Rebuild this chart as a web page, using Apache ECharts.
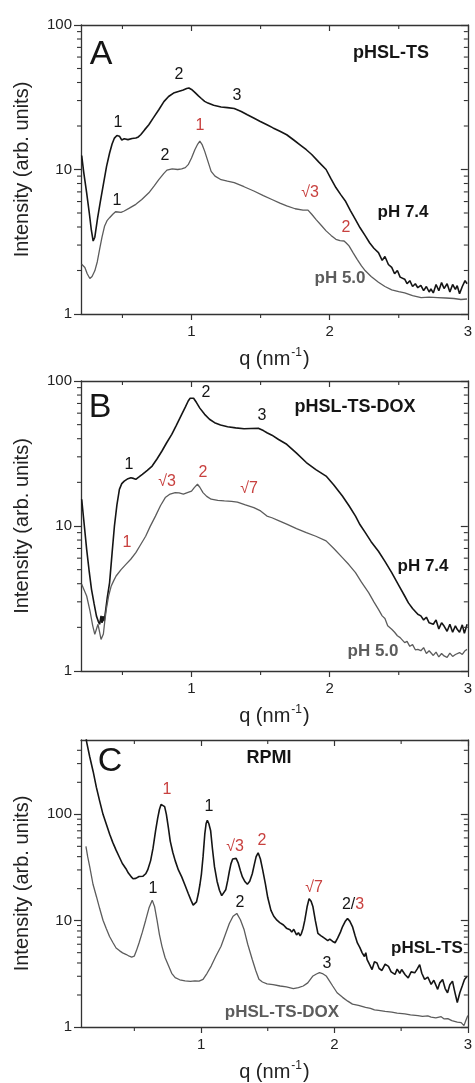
<!DOCTYPE html>
<html>
<head>
<meta charset="utf-8">
<script src="https://cdn.jsdelivr.net/npm/echarts@6/dist/echarts.min.js"></script>
<style>
html,body{margin:0;padding:0;background:#fff;}
#chart{width:475px;height:1083px;}
</style>
</head>
<body>
<div id="chart"></div>
<script>
// ---------- data (q in nm^-1, intensity in arb. units) ----------
const xTickMajor = [1, 2, 3];
const xTickMinor = [0.5, 1.5, 2.5];
const yTickMinor = [2,3,4,5,6,7,8,9,20,30,40,50,60,70,80,90,200,300,400];

const A_pH74 = [[0.205,12.5],[0.22,9.5],[0.24,7.0],[0.26,5.0],[0.275,3.8],[0.288,3.2],[0.30,3.4],[0.32,4.6],[0.34,6.0],[0.36,7.7],[0.385,10.5],[0.407,13.0],[0.425,15.0],[0.442,16.5],[0.46,17.2],[0.478,17.0],[0.495,16.0],[0.513,16.3],[0.54,16.1],[0.57,16.4],[0.597,16.5],[0.615,16.8],[0.632,17.4],[0.66,18.8],[0.691,20.4],[0.72,22.5],[0.763,25.9],[0.80,29.5],[0.834,32],[0.87,33.8],[0.905,34.7],[0.94,35.5],[0.965,36.3],[0.981,36.6],[1.0,35.8],[1.024,34.2],[1.05,32.3],[1.071,31.0],[1.095,29.6],[1.119,28.8],[1.16,27.8],[1.214,27.1],[1.26,26.8],[1.309,26.4],[1.36,25.2],[1.404,23.9],[1.45,22.7],[1.498,21.5],[1.546,20.4],[1.59,19.4],[1.64,18.4],[1.689,17.4],[1.74,16.0],[1.79,14.7],[1.831,13.7],[1.87,12.7],[1.92,11.3],[1.974,10.0],[2.01,8.6],[2.045,7.5],[2.08,6.7],[2.116,6.0],[2.15,5.2],[2.187,4.5],[2.22,3.95],[2.258,3.47],[2.29,3.1],[2.32,2.85],[2.353,2.66],[2.38,2.35],[2.40,2.5],[2.425,2.2],[2.449,2.1],[2.47,1.9],[2.49,2.0],[2.51,1.8],[2.543,1.74],[2.56,1.62],[2.58,1.7],[2.60,1.55],[2.62,1.62],[2.638,1.52],[2.66,1.58],[2.68,1.45],[2.70,1.55],[2.72,1.42],[2.733,1.49],[2.75,1.40],[2.77,1.60],[2.79,1.45],[2.81,1.65],[2.828,1.50],[2.85,1.62],[2.87,1.42],[2.89,1.60],[2.91,1.48],[2.923,1.57],[2.94,1.38],[2.96,1.55],[2.98,1.70],[2.995,1.62]];

const A_pH50 = [[0.205,2.21],[0.228,2.10],[0.245,1.9],[0.264,1.76],[0.28,1.82],[0.30,1.99],[0.318,2.3],[0.335,2.81],[0.352,3.4],[0.371,4.07],[0.39,4.45],[0.407,4.64],[0.43,4.9],[0.45,5.1],[0.466,5.08],[0.49,5.05],[0.513,5.16],[0.55,5.4],[0.597,5.74],[0.64,6.2],[0.691,6.9],[0.73,7.7],[0.763,8.5],[0.80,9.4],[0.822,9.9],[0.86,10.1],[0.90,10.0],[0.929,10.1],[0.955,10.3],[0.976,10.8],[1.0,12.0],[1.024,13.7],[1.045,15.0],[1.060,15.7],[1.078,14.8],[1.095,13.4],[1.12,11.3],[1.142,9.7],[1.17,9.0],[1.214,8.5],[1.26,8.3],[1.309,8.1],[1.38,7.6],[1.451,7.1],[1.52,6.6],[1.582,6.2],[1.64,5.85],[1.689,5.6],[1.75,5.35],[1.807,5.24],[1.843,5.24],[1.87,4.9],[1.902,4.5],[1.94,4.1],[1.974,3.76],[2.01,3.5],[2.045,3.29],[2.075,3.22],[2.104,3.2],[2.12,3.1],[2.14,2.96],[2.17,2.65],[2.199,2.39],[2.23,2.15],[2.258,1.99],[2.30,1.82],[2.353,1.66],[2.40,1.55],[2.449,1.47],[2.50,1.43],[2.543,1.40],[2.60,1.34],[2.662,1.30],[2.72,1.31],[2.781,1.30],[2.84,1.29],[2.899,1.28],[2.95,1.26],[2.994,1.27]];

const B_pH74 = [[0.205,15.3],[0.22,11.0],[0.241,6.9],[0.26,4.8],[0.276,3.66],[0.295,2.9],[0.312,2.39],[0.325,2.2],[0.335,2.10],[0.345,2.4],[0.352,2.15],[0.359,2.39],[0.368,2.2],[0.378,2.6],[0.39,3.2],[0.407,4.07],[0.425,6.5],[0.442,10],[0.46,14],[0.478,17.9],[0.495,19.6],[0.513,20.4],[0.54,21.2],[0.561,21.5],[0.58,21.3],[0.597,21.0],[0.62,21.8],[0.644,22.7],[0.68,24.2],[0.715,25.9],[0.75,29],[0.786,32.9],[0.82,37.5],[0.857,42.8],[0.89,49.5],[0.929,58.9],[0.955,66],[0.976,72.8],[0.99,76],[1.0,78],[1.015,76],[1.036,71],[1.06,65],[1.095,58.9],[1.13,54.5],[1.167,51.6],[1.21,49.8],[1.261,48.4],[1.32,47.5],[1.38,46.9],[1.43,47.0],[1.487,47.1],[1.52,45.5],[1.546,44],[1.582,42.3],[1.63,39.5],[1.689,36.6],[1.76,31.8],[1.831,27.4],[1.90,24.5],[1.974,22.1],[2.03,19.2],[2.092,16.1],[2.14,13.8],[2.187,11.7],[2.22,10.2],[2.258,9.0],[2.30,7.8],[2.353,6.7],[2.40,5.7],[2.449,4.77],[2.50,3.9],[2.543,3.29],[2.57,2.95],[2.60,2.7],[2.638,2.46],[2.66,2.4],[2.68,2.25],[2.70,2.35],[2.72,2.15],[2.733,2.21],[2.75,2.1],[2.77,2.25],[2.79,1.95],[2.81,2.15],[2.828,2.04],[2.85,1.88],[2.87,2.1],[2.89,1.85],[2.91,2.05],[2.923,1.94],[2.94,1.85],[2.96,2.08],[2.975,1.82],[2.995,2.1]];

const B_pH50 = [[0.205,3.96],[0.241,3.29],[0.265,2.6],[0.285,2.05],[0.300,1.79],[0.312,1.95],[0.323,2.1],[0.335,1.85],[0.345,1.65],[0.352,1.61],[0.362,1.8],[0.372,2.2],[0.383,2.66],[0.40,3.3],[0.419,3.86],[0.437,4.2],[0.454,4.52],[0.49,5.0],[0.525,5.44],[0.56,5.9],[0.597,6.55],[0.63,7.4],[0.668,8.5],[0.70,9.9],[0.739,11.7],[0.775,13.8],[0.810,15.7],[0.845,16.6],[0.882,17.0],[0.91,16.9],[0.941,16.6],[0.97,17.0],[1.0,17.4],[1.02,18.4],[1.043,19.4],[1.06,18.5],[1.083,17.0],[1.11,16.0],[1.142,15.3],[1.19,15.0],[1.238,14.9],[1.29,14.8],[1.332,14.6],[1.39,14.0],[1.451,13.4],[1.50,12.7],[1.546,11.7],[1.582,11.4],[1.63,10.9],[1.689,10.3],[1.76,9.6],[1.831,9.0],[1.90,8.5],[1.974,7.9],[2.03,7.0],[2.092,6.05],[2.14,5.4],[2.187,4.77],[2.23,4.1],[2.282,3.47],[2.32,3.0],[2.353,2.66],[2.38,2.4],[2.40,2.3],[2.42,2.05],[2.449,1.94],[2.47,1.85],[2.49,1.75],[2.51,1.7],[2.543,1.57],[2.56,1.6],[2.58,1.48],[2.60,1.52],[2.62,1.4],[2.638,1.41],[2.66,1.38],[2.68,1.45],[2.70,1.32],[2.72,1.38],[2.733,1.34],[2.75,1.28],[2.77,1.35],[2.79,1.25],[2.81,1.32],[2.828,1.27],[2.85,1.24],[2.87,1.33],[2.89,1.26],[2.91,1.30],[2.923,1.27],[2.94,1.34],[2.96,1.30],[2.98,1.38],[2.994,1.41]];

const C_TS = [[0.13,650],[0.142,481],[0.165,350],[0.191,253],[0.215,180],[0.240,133],[0.265,100],[0.290,80.7],[0.315,65],[0.338,54.5],[0.363,46],[0.388,39.5],[0.41,34.5],[0.437,30.8],[0.455,28],[0.474,26.1],[0.49,24.8],[0.50,25.8],[0.511,25.0],[0.525,24.5],[0.535,26],[0.548,25.7],[0.565,26.2],[0.585,27.6],[0.60,30],[0.622,36.7],[0.64,48],[0.659,70],[0.675,92],[0.688,111],[0.70,124],[0.713,128.5],[0.727,118],[0.740,100],[0.755,75],[0.769,56],[0.788,44],[0.806,36.7],[0.83,30],[0.855,25.8],[0.88,21.5],[0.904,18],[0.925,15.5],[0.941,14],[0.955,13.6],[0.966,15],[0.98,18],[0.992,22],[1.003,27.6],[1.015,40],[1.028,65],[1.038,82],[1.047,88],[1.058,82],[1.072,70],[1.085,48],[1.101,32],[1.12,23.5],[1.138,19.3],[1.155,17.2],[1.168,16.5],[1.185,19.5],[1.20,23.9],[1.212,29],[1.224,34.2],[1.237,38],[1.249,39.5],[1.263,38.5],[1.278,35],[1.295,29.5],[1.310,25.8],[1.33,23.2],[1.347,22],[1.365,23.5],[1.384,27.6],[1.40,34],[1.413,40],[1.428,43.5],[1.445,38],[1.462,30],[1.482,22.3],[1.50,16.5],[1.524,12.5],[1.545,11],[1.569,10.1],[1.59,9.6],[1.618,9.1],[1.64,8.5],[1.667,8.2],[1.68,7.8],[1.695,8.3],[1.716,7.35],[1.73,7.7],[1.743,7.2],[1.753,7.6],[1.765,8.5],[1.778,10.1],[1.795,13.5],[1.810,16.1],[1.825,15.2],[1.839,13.5],[1.857,10],[1.876,7.6],[1.90,7.2],[1.925,6.84],[1.95,6.5],[1.965,6.7],[1.987,6.37],[2.005,6.2],[2.024,6.84],[2.045,7.8],[2.061,8.8],[2.08,9.8],[2.098,10.5],[2.115,9.9],[2.135,8.8],[2.155,7.2],[2.172,6.17],[2.19,5.6],[2.208,4.98],[2.225,4.6],[2.235,5.0],[2.245,4.31],[2.262,3.9],[2.282,3.47],[2.30,4.1],[2.319,4.0],[2.335,3.55],[2.356,3.4],[2.38,3.9],[2.405,3.72],[2.425,3.3],[2.454,3.12],[2.47,3.5],[2.49,3.2],[2.504,3.47],[2.53,3.1],[2.553,2.9],[2.575,3.3],[2.602,3.23],[2.62,3.5],[2.639,3.86],[2.655,3.2],[2.676,2.8],[2.70,2.95],[2.725,2.52],[2.745,2.75],[2.774,2.26],[2.79,2.6],[2.811,2.8],[2.83,2.3],[2.848,2.1],[2.865,2.5],[2.885,2.7],[2.90,2.2],[2.921,1.70],[2.94,2.1],[2.958,2.43],[2.975,2.8],[2.995,3.0]];

const C_TSDOX = [[0.137,50],[0.15,40],[0.166,31.9],[0.19,22],[0.216,16.8],[0.24,13],[0.265,10.1],[0.29,8.4],[0.314,7.1],[0.34,6.2],[0.363,5.53],[0.39,5.2],[0.412,4.98],[0.44,4.8],[0.462,4.63],[0.48,4.55],[0.499,4.63],[0.515,5.2],[0.535,6.17],[0.56,7.8],[0.585,10.1],[0.61,13.2],[0.634,15.6],[0.652,13.5],[0.670,10.1],[0.688,7.4],[0.707,5.74],[0.73,4.5],[0.757,3.74],[0.78,3.2],[0.806,2.91],[0.84,2.78],[0.880,2.71],[0.92,2.68],[0.954,2.71],[0.985,2.7],[1.015,2.81],[1.045,3.2],[1.076,3.74],[1.11,4.6],[1.150,5.74],[1.18,7.3],[1.212,9.4],[1.24,11.0],[1.268,11.7],[1.295,10.2],[1.323,8.2],[1.35,6.0],[1.384,4.31],[1.41,3.4],[1.434,2.81],[1.46,2.65],[1.495,2.55],[1.54,2.5],[1.593,2.43],[1.64,2.38],[1.692,2.30],[1.73,2.35],[1.766,2.43],[1.80,2.6],[1.839,3.02],[1.865,3.15],[1.888,3.24],[1.91,3.18],[1.938,3.02],[1.96,2.75],[1.987,2.43],[2.02,2.1],[2.061,1.90],[2.10,1.75],[2.135,1.64],[2.18,1.6],[2.233,1.53],[2.27,1.5],[2.30,1.45],[2.331,1.43],[2.38,1.40],[2.43,1.38],[2.47,1.35],[2.528,1.33],[2.57,1.3],[2.626,1.28],[2.66,1.26],[2.70,1.27],[2.725,1.24],[2.76,1.22],[2.80,1.25],[2.823,1.19],[2.85,1.2],[2.88,1.15],[2.921,1.11],[2.95,1.1],[2.971,1.03],[2.985,1.15],[3.0,1.28]];

// ---------- layout / style ----------
const FONT = '"Liberation Sans", Arial, Helvetica, sans-serif';
const BLACK = '#151515', GRAY = '#5c5c5c', RED = '#c8413f', AXIS = '#333';

const panels = [
  {top: 25,  height: 289, xMin: 0.2, xMax: 3, yMin: 1, yMax: 100, series: [[A_pH74, BLACK, 1.6], [A_pH50, GRAY, 1.3]]},
  {top: 381, height: 290, xMin: 0.2, xMax: 3, yMin: 1, yMax: 100, series: [[B_pH74, BLACK, 1.6], [B_pH50, GRAY, 1.3]]},
  {top: 740, height: 290, xMin: 0.1, xMax: 3, yMin: 1, yMax: 500, series: [[C_TS, BLACK, 1.6], [C_TSDOX, GRAY, 1.3]]}
];

const texts = [
  // panel A
  {t: 'A', x: 101, y: 55, s: 34, c: BLACK},
  {t: 'pHSL-TS', x: 391, y: 53, s: 18, c: BLACK, b: true},
  {t: '2', x: 179, y: 75, s: 16, c: BLACK},
  {t: '3', x: 237, y: 96, s: 16, c: BLACK},
  {t: '1', x: 118, y: 123, s: 16, c: BLACK},
  {t: '1', x: 200, y: 126, s: 16, c: RED},
  {t: '2', x: 165, y: 156, s: 16, c: BLACK},
  {t: '1', x: 117, y: 201, s: 16, c: BLACK},
  {t: '√3', x: 310, y: 193, s: 16, c: RED},
  {t: 'pH 7.4', x: 403, y: 212, s: 17, c: BLACK, b: true},
  {t: '2', x: 346, y: 228, s: 16, c: RED},
  {t: 'pH 5.0', x: 340, y: 278, s: 17, c: GRAY, b: true},
  // panel B
  {t: 'B', x: 100, y: 408, s: 34, c: BLACK},
  {t: '2', x: 206, y: 393, s: 16, c: BLACK},
  {t: 'pHSL-TS-DOX', x: 355, y: 407, s: 18, c: BLACK, b: true},
  {t: '3', x: 262, y: 416, s: 16, c: BLACK},
  {t: '1', x: 129, y: 465, s: 16, c: BLACK},
  {t: '√3', x: 167, y: 482, s: 16, c: RED},
  {t: '2', x: 203, y: 473, s: 16, c: RED},
  {t: '√7', x: 249, y: 489, s: 16, c: RED},
  {t: '1', x: 127, y: 543, s: 16, c: RED},
  {t: 'pH 7.4', x: 423, y: 566, s: 17, c: BLACK, b: true},
  {t: 'pH 5.0', x: 373, y: 651, s: 17, c: GRAY, b: true},
  // panel C
  {t: 'C', x: 110, y: 762, s: 34, c: BLACK},
  {t: 'RPMI', x: 269, y: 758, s: 18, c: BLACK, b: true},
  {t: '1', x: 167, y: 790, s: 16, c: RED},
  {t: '1', x: 209, y: 807, s: 16, c: BLACK},
  {t: '√3', x: 235, y: 847, s: 16, c: RED},
  {t: '2', x: 262, y: 841, s: 16, c: RED},
  {t: '1', x: 153, y: 889, s: 16, c: BLACK},
  {t: '2', x: 240, y: 903, s: 16, c: BLACK},
  {t: '√7', x: 314, y: 888, s: 16, c: RED},
  {t: '{k|2/}{r|3}', x: 353, y: 905, s: 16, c: BLACK, rich: true},
  {t: 'pHSL-TS', x: 427, y: 948, s: 17, c: BLACK, b: true},
  {t: '3', x: 327, y: 964, s: 16, c: BLACK},
  {t: 'pHSL-TS-DOX', x: 282, y: 1012, s: 17, c: GRAY, b: true}
];

// ---------- build option ----------
const grid = [], xAxis = [], yAxis = [], series = [];
panels.forEach((p, i) => {
  grid.push({left: 81, width: 393, top: p.top, height: p.height, containLabel: false});
  const line = {show: true, lineStyle: {color: AXIS, width: 1.3}};
  xAxis.push({
    type: 'value', gridIndex: i, position: 'bottom', min: p.xMin, max: p.xMax,
    axisLine: line, splitLine: {show: false},
    axisTick: {show: true, inside: false, length: 6, lineStyle: {color: AXIS, width: 1.2}, customValues: xTickMajor},
    axisLabel: {show: true, customValues: xTickMajor, margin: 10, fontSize: 15, color: '#222', fontFamily: FONT},
    name: '{a|q (nm}{s|-1}{a|)}', nameLocation: 'middle', nameGap: 33,
    nameTextStyle: {fontFamily: FONT, color: '#222', rich: {
      a: {fontSize: 20, fontFamily: FONT, color: '#222', lineHeight: 24},
      s: {fontSize: 12, fontFamily: FONT, color: '#222', verticalAlign: 'top', lineHeight: 24, padding: [0, 1, 0, 1]}
    }}
  });
  xAxis.push({
    type: 'value', gridIndex: i, position: 'top', min: p.xMin, max: p.xMax,
    axisLine: line, splitLine: {show: false},
    axisTick: {show: true, inside: true, length: 6, lineStyle: {color: AXIS, width: 1.2}, customValues: xTickMajor},
    axisLabel: {show: false}
  });
  yAxis.push({
    type: 'log', logBase: 10, gridIndex: i, position: 'left', min: p.yMin, max: p.yMax,
    axisLine: line, splitLine: {show: false}, minorSplitLine: {show: false},
    axisTick: {show: true, inside: false, length: 7, lineStyle: {color: AXIS, width: 1.2}},
    axisLabel: {show: true, margin: 9, fontSize: 15, color: '#222', fontFamily: FONT, showMaxLabel: p.yMax === 100},
    name: 'Intensity (arb. units)', nameLocation: 'middle', nameGap: 49, nameRotate: 90,
    nameTextStyle: {fontSize: 20, fontFamily: FONT, color: '#222'}
  });
  yAxis.push({
    type: 'log', logBase: 10, gridIndex: i, position: 'right', min: p.yMin, max: p.yMax,
    axisLine: line, splitLine: {show: false},
    axisTick: {show: true, inside: true, length: 7, lineStyle: {color: AXIS, width: 1.2}},
    axisLabel: {show: false}
  });

  p.series.forEach(([data, color, w]) => {
    series.push({
      type: 'line', xAxisIndex: 2 * i, yAxisIndex: 2 * i, data: data,
      showSymbol: false, symbol: 'none', smooth: false, clip: true,
      lineStyle: {color: color, width: w}, silent: true, animation: false, z: 3
    });
  });

  // minor ticks, placed through the axes' own scales
  const tickData = [];
  yTickMinor.filter(v => v > p.yMin && v < p.yMax).forEach(v => tickData.push([p.xMin, v, 0]));
  xTickMinor.forEach(v => tickData.push([v, p.yMin, 1]));
  series.push({
    type: 'custom', xAxisIndex: 2 * i, yAxisIndex: 2 * i, data: tickData, clip: false,
    silent: true, animation: false, z: 5,
    encode: {x: 0, y: 1},
    renderItem: function (params, api) {
      const kind = api.value(2);
      const st = {stroke: AXIS, lineWidth: 1.1};
      if (kind === 0) {
        const v = api.value(1);
        const a = api.coord([p.xMin, v]);
        const b = api.coord([p.xMax, v]);
        return {type: 'group', children: [
          {type: 'line', shape: {x1: a[0] - 4, y1: a[1], x2: a[0], y2: a[1]}, style: st},
          {type: 'line', shape: {x1: b[0] - 4, y1: b[1], x2: b[0], y2: b[1]}, style: st}
        ]};
      } else {
        const v = api.value(0);
        const a = api.coord([v, p.yMin]);
        const b = api.coord([v, p.yMax]);
        return {type: 'group', children: [
          {type: 'line', shape: {x1: a[0], y1: a[1], x2: a[0], y2: a[1] + 4}, style: st},
          {type: 'line', shape: {x1: b[0], y1: b[1], x2: b[0], y2: b[1] + 4}, style: st}
        ]};
      }
    }
  });
});

const graphic = texts.map(o => ({
  type: 'text', x: o.x, y: o.y, z: 10, silent: true,
  style: {
    text: o.t, fill: o.c,
    font: (o.b ? 'bold ' : '') + o.s + 'px ' + FONT,
    align: 'center', verticalAlign: 'middle',
    rich: o.rich ? {
      k: {fill: BLACK, font: o.s + 'px ' + FONT},
      r: {fill: RED, font: o.s + 'px ' + FONT}
    } : undefined
  }
}));

const chart = echarts.init(document.getElementById('chart'), null, {renderer: 'canvas'});
chart.setOption({
  backgroundColor: '#ffffff',
  animation: false,
  grid: grid, xAxis: xAxis, yAxis: yAxis, series: series, graphic: graphic
});
</script>
</body>
</html>
